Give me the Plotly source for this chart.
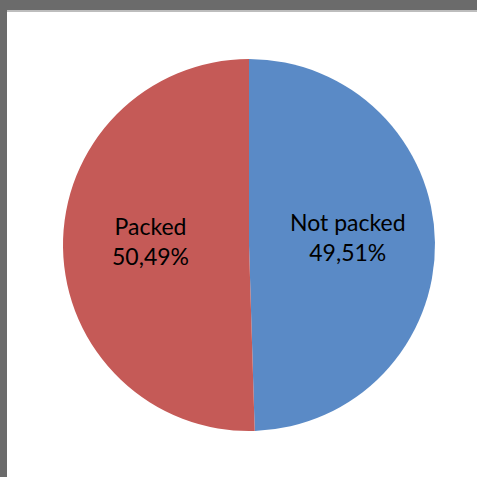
import math
import plotly.graph_objects as go

categories = ["Not packed", "Packed"]
values = [49.51, 50.49]
colors = ["#5A8AC6", "#C55A57"]

W = H = 477
cx, cy, r = 249, 245, 186

fig = go.Figure(go.Pie(
    labels=categories,
    values=values,
    sort=False,
    direction="clockwise",
    rotation=0,
    marker=dict(colors=colors, line=dict(width=0)),
    textinfo="none",
    showlegend=False,
    hoverinfo="label+percent",
    domain=dict(x=[(cx - r) / W, (cx + r) / W], y=[(H - cy - r) / H, (H - cy + r) / H]),
))

# data labels placed at each slice's mid-angle
total = sum(values)
annotations = []
cum = 0.0
for lab, v in zip(categories, values):
    mid = (cum + v / 2) / total * 2 * math.pi
    cum += v
    px = cx + 0.53 * r * math.sin(mid)
    py = cy - 0.53 * r * math.cos(mid)
    pct = f"{v / total * 100:.2f}".replace(".", ",") + "%"
    annotations.append(dict(
        x=px / W, y=(H - py) / H, xref="paper", yref="paper",
        text=f"{lab}<br>{pct}", showarrow=False, yshift=6,
        font=dict(family="Lato, Open Sans, sans-serif", size=23, color="#000000"),
        align="center", xanchor="center", yanchor="middle",
    ))

fig.update_layout(
    width=W, height=H,
    margin=dict(l=0, r=0, t=0, b=0),
    paper_bgcolor="white",
    plot_bgcolor="white",
    annotations=annotations,
    shapes=[
        dict(type="rect", xref="paper", yref="paper", x0=0, x1=1, y0=(H - 10) / H, y1=1,
             fillcolor="#6B6B6B", line=dict(width=0), layer="above"),
        dict(type="rect", xref="paper", yref="paper", x0=0, x1=1, y0=(H - 12) / H, y1=(H - 10) / H,
             fillcolor="#BDBDBD", line=dict(width=0), layer="above"),
        dict(type="rect", xref="paper", yref="paper", x0=0, x1=7 / W, y0=0, y1=1,
             fillcolor="#6B6B6B", line=dict(width=0), layer="above"),
    ],
)

fig.write_html("out.html")
